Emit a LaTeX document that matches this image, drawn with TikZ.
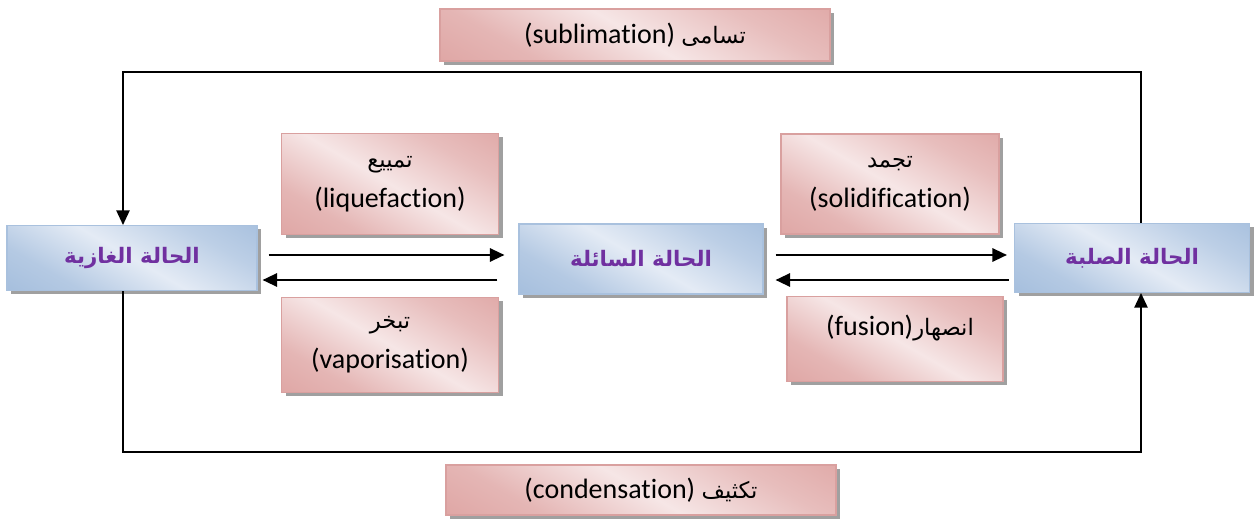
\documentclass[tikz,border=0pt]{standalone}
\usepackage{fontspec}
\setmainfont{Carlito}[Ligatures=NoCommon]
\newfontfamily\arabicfont[Script=Arabic]{DejaVu Sans}
\TeXXeTstate=1
\usetikzlibrary{arrows.meta,shadows,calc}
\definecolor{pdark}{HTML}{D99694}
\definecolor{plight}{HTML}{F6E6E6}
\definecolor{pborder}{HTML}{D9A09F}
\definecolor{bdark}{HTML}{95B3D7}
\definecolor{blight}{HTML}{E4EBF5}
\definecolor{bborder}{HTML}{A9C1DE}
\definecolor{stpurple}{HTML}{7030A0}
\definecolor{shadowgray}{HTML}{A0A0A0}
\pgfdeclarehorizontalshading{pinkgrad}{100bp}{color(0bp)=(pdark); color(30bp)=(pdark!60!plight); color(50bp)=(plight); color(70bp)=(pdark!50!plight); color(100bp)=(pdark)}
\pgfdeclarehorizontalshading{bluegrad}{100bp}{color(0bp)=(bdark); color(30bp)=(bdark!60!blight); color(50bp)=(blight); color(70bp)=(bdark!50!blight); color(100bp)=(bdark)}
\tikzset{
  pinkbox/.style={rectangle, draw=pborder, line width=0.8pt, shading=pinkgrad, shading angle=60,
    drop shadow={shadow xshift=3pt, shadow yshift=-3pt, fill=shadowgray, opacity=1},
    inner sep=0pt, font=\fontsize{21}{26}\selectfont, align=center},
  bluebox/.style={rectangle, draw=bborder, line width=0.8pt, shading=bluegrad, shading angle=60,
    drop shadow={shadow xshift=3pt, shadow yshift=-3pt, fill=shadowgray, opacity=1},
    inner sep=0pt, font=\arabicfont\bfseries\fontsize{16}{20}\selectfont, text=stpurple},
  plaintext/.style={inner sep=0pt, font=\fontsize{21}{26}\selectfont},
  arr/.style={line width=1.7pt, -{Triangle[length=11pt,width=10pt]}},
  frame/.style={line width=1.2pt, -{Triangle[length=11pt,width=10pt]}}
}
\newcommand{\ar}[1]{{\arabicfont\fontsize{17}{22}\selectfont\beginR #1\endR}}
\begin{document}
\begin{tikzpicture}[x=0.75pt,y=-0.75pt]
\useasboundingbox (0,0) rectangle (1257,523);
% state boxes
\node[bluebox, minimum width=250*0.75pt, minimum height=65*0.75pt] (gas) at (132,258) {\beginR الحالة الغازية\endR};
\node[bluebox, minimum width=244*0.75pt, minimum height=70*0.75pt] (liq) at (641,259) {\beginR الحالة السائلة\endR};
\node[bluebox, minimum width=235*0.75pt, minimum height=69*0.75pt] (sol) at (1132,258) {\beginR الحالة الصلبة\endR};
% process boxes
\node[pinkbox, minimum width=390*0.75pt, minimum height=52*0.75pt] (subl) at (635,35) {(sublimation) \ar{تسامى}};
\node[pinkbox, minimum width=217*0.75pt, minimum height=101*0.75pt] (liquef) at (390,184) {\ar{تمييع}\\[4pt](liquefaction)};
\node[pinkbox, minimum width=218*0.75pt, minimum height=100*0.75pt] (solid) at (890,184) {\ar{تجمد}\\[4pt](solidification)};
\node[pinkbox, minimum width=217*0.75pt, minimum height=95*0.75pt] (vap) at (390,345) {\ar{تبخر}\\[4pt](vaporisation)};
\node[pinkbox, minimum width=216*0.75pt, minimum height=85*0.75pt] (fus) at (895,339) {};
\node[plaintext] (fustext) at (900,328) {(fusion)\ar{انصهار}};
\node[pinkbox, minimum width=390*0.75pt, minimum height=50*0.75pt] (cond) at (641,490) {(condensation) \ar{تكثيف}};
% frame coordinates
\coordinate (tl) at (123,72);
\coordinate (tr) at (1141,72);
\coordinate (bl) at (123,452);
\coordinate (br) at (1141,452);
% sublimation: solid -> gas (top)
\draw[frame] (sol.north -| tr) -- (tr) -- (tl) -- (gas.north -| tl);
% condensation: gas -> solid (bottom)
\draw[frame] (gas.south -| bl) -- (bl) -- (br) -- (sol.south -| br);
% horizontal arrows
\draw[arr] ($(gas.east)+(11,-3)$) -- ($(liq.west)+(-14,-4)$);
\draw[arr] ($(liq.west)+(-21,21)$) -- ($(gas.east)+(5,22)$);
\draw[arr] ($(liq.east)+(12,-4)$) -- ($(sol.west)+(-7,-3)$);
\draw[arr] ($(sol.west)+(-5,22)$) -- ($(liq.east)+(12,21)$);
\end{tikzpicture}
\end{document}
